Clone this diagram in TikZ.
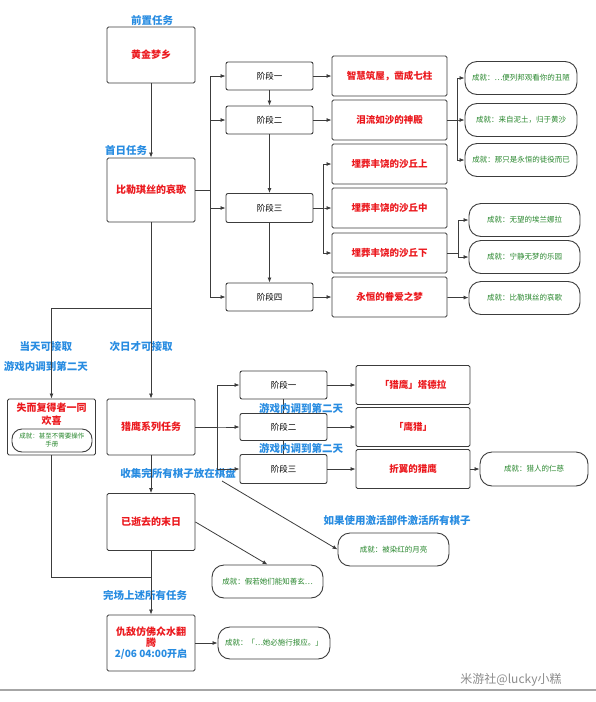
\documentclass[tikz,border=0pt]{standalone}
\usepackage{fontspec}
\setmainfont{Noto Sans CJK SC}
\usetikzlibrary{arrows.meta,%
		positioning}

\definecolor{questred}{RGB}{235,25,30}
\definecolor{tipblue}{RGB}{40,140,225}
\definecolor{achgreen}{RGB}{40,135,45}
\definecolor{boxline}{RGB}{60,60,60}

\tikzset{
  quest/.style={draw=boxline, line width=0.9pt, rounded corners=1.5pt, minimum width=88pt, minimum height=56pt,
    text=questred, font=\fontsize{10}{13}\selectfont\bfseries, align=center, inner sep=2pt},
  questbar/.style={quest, minimum width=115pt, minimum height=40pt, font=\fontsize{9.5}{11}\selectfont\bfseries},
  stagebox/.style={draw=boxline, line width=0.9pt, rounded corners=2pt, minimum width=87pt, minimum height=28pt,
    font=\fontsize{8.5}{10}\selectfont},
  ach/.style={draw=boxline, line width=0.9pt, rounded corners=12pt, minimum width=112pt, minimum height=33pt,
    text=achgreen, font=\fontsize{7.5}{9}\selectfont, fill=white},
  tip/.style={text=tipblue, font=\fontsize{10.5}{12}\selectfont\bfseries},
  arr/.style={-{Latex[length=5pt,width=4pt]}, line width=0.8pt, draw=boxline},
  wire/.style={line width=0.8pt, draw=boxline},
}

\begin{document}
\begin{tikzpicture}[x=1pt,y=-1pt]
\useasboundingbox (0,0) rectangle (596,702);
%colonna principale
\node[quest] (golddream) at (151,55) {黄金梦乡};
\node[quest, minimum height=64pt] (bilqis) at (151,190) {比勒琪丝的哀歌};
\node[quest] (lostfound) at (51.5,427) {};
\node[quest] (hawkquest) at (151,427) {猎鹰系列任务};
\node[quest, minimum height=57pt] (pastdoom) at (151,522) {已逝去的末日};
\node[quest] (enemy) at (151,643) {仇敌仿佛众水翻\\[-2pt]腾\\[-2pt]{\color{tipblue}2/06 04:00开启}};
\node[text=questred, font=\fontsize{10}{13}\selectfont\bfseries, align=center] (lostfoundtxt) at (51.5,414) {失而复得者一同\\欢喜};
\node[ach, minimum width=80pt, minimum height=23pt, rounded corners=10pt, font=\fontsize{6.5}{8}\selectfont, align=center, inner sep=1pt] (achmanual) at (52,440.5) {成就：甚至不需要操作\\手册};

%etichette
\node[tip] (tippre) at (152,20) {前置任务};
\node[tip] (tipfirst) at (126,150) {首日任务};
\node[tip] (tipsame) at (46,347) {当天可接取};
\node[tip] (tipnextday) at (46,366) {游戏内调到第二天};
\node[tip] (tipnext) at (141,347) {次日才可接取};
\node[tip] (tipchess) at (178,473) {收集完所有棋子放在棋盘};
\node[tip] (tipactive) at (397,520) {如果使用激活部件激活所有棋子};
\node[tip] (tipdone) at (145,595) {完场上述所有任务};

%fasi di Bilqis
\node[stagebox] (stA) at (269.5,76) {阶段一};
\node[stagebox] (stB) at (269.5,120) {阶段二};
\node[stagebox, minimum height=29pt] (stC) at (269.5,208) {阶段三};
\node[stagebox] (stD) at (269.5,297) {阶段四};
\node[questbar] (qwisdom) at (389.5,76) {智慧筑屋，凿成七柱};
\node[questbar] (qtears) at (389.5,120) {泪流如沙的神殿};
\node[questbar] (qdunetop) at (389.5,164) {埋葬丰饶的沙丘上};
\node[questbar] (qdunemid) at (389.5,208) {埋葬丰饶的沙丘中};
\node[questbar] (qdunelow) at (389.5,253) {埋葬丰饶的沙丘下};
\node[questbar] (qeternal) at (389.5,297) {永恒的眷爱之梦};
\node[ach] (achugly) at (521,78) {成就：…便列邦观看你的丑陋};
\node[ach] (achdust) at (521,120) {成就：来自泥土，归于黄沙};
\node[ach] (achtoil) at (521,160) {成就：那只是永恒的徒役而已};
\node[ach, minimum width=111pt] (achhope) at (524.5,220) {成就：无望的埃兰娜拉};
\node[ach, minimum width=111pt] (achparadise) at (524.5,257) {成就：宁静无梦的乐园};
\node[ach, minimum width=111pt] (achlament) at (524.5,298) {成就：比勒琪丝的哀歌};

%fasi del falco
\node[stagebox] (hkA) at (283.5,385) {阶段一};
\node[stagebox, minimum height=27pt] (hkB) at (283.5,427) {阶段二};
\node[stagebox, minimum height=29pt] (hkC) at (283.5,469) {阶段三};
\node[questbar, minimum width=114pt, minimum height=39pt] (rtadrra) at (413,385) {「猎鹰」塔德拉};
\node[questbar, minimum width=114pt, minimum height=39pt] (rhunt) at (413,427) {「鹰猎」};
\node[questbar, minimum width=114pt, minimum height=39pt] (rbroken) at (413,469) {折翼的猎鹰};
\node[ach, minimum width=108pt, minimum height=34pt] (achmercy) at (534,469) {成就：猎人的仁慈};
\node[ach, minimum width=111pt] (achknow) at (267.5,581.5) {成就：假若她们能知善玄…};
\node[ach, minimum width=111pt] (achmoon) at (393.5,549.5) {成就：被染红的月亮};
\node[ach, minimum width=112pt, minimum height=32pt] (achvengeance) at (274,643) {成就：「…她必施行报应。」};
\node[text=black!45, font=\fontsize{12}{14}\selectfont] (mark) at (511,680) {米游社@lucky小糕};

%collegamenti
\coordinate (fork) at (151,308);
\coordinate (rejoin) at (151,577);
\coordinate (chessend) at (222,481);
\draw[arr] (golddream) -- (bilqis);
\foreach \s in {stA,stB,stC,stD}
  \draw[arr] (bilqis.east) -- ++(15,0) |- (\s.west);
\draw[arr] (stA) -- (stB);
\draw[arr] (stB) -- (stC);
\draw[arr] (stC) -- (stD);
\draw[arr] (stA) -- (qwisdom);
\draw[arr] (stB) -- (qtears);
\draw[arr] (stD) -- (qeternal);
\foreach \q in {qdunetop,qdunemid,qdunelow}
  \draw[arr] (stC.east) -- ++(10,0) |- (\q.west);
\foreach \a in {achugly,achdust,achtoil}
  \draw[arr] (qtears.east) -- ++(10,0) |- (\a.west);
\foreach \a in {achhope,achparadise}
  \draw[arr] (qdunelow.east) -- ++(11,0) |- (\a.west);
\draw[arr] (qeternal) -- (achlament);

\draw[wire] (bilqis) -- (fork);
\draw[arr] (fork) -- (hawkquest);
\draw[arr] (fork) -| (lostfound);
\draw[wire] (lostfound.south) |- (rejoin);
\draw[arr] (hawkquest) -- (pastdoom);
\draw[arr] (pastdoom) -- (enemy);
\foreach \h in {hkA,hkB,hkC}
  \draw[arr] (hawkquest.east) -- ++(22,0) |- (\h.west);
\draw[wire] (hkA) -- (hkB);
\draw[wire] (hkB) -- (hkC);
\draw[arr] (hkA) -- (rtadrra);
\draw[arr] (hkB) -- (rhunt);
\draw[arr] (hkC) -- (rbroken);
\draw[arr] (rbroken) -- (achmercy);
\draw[arr] (pastdoom.east) -- (achknow.north);
\draw[arr] (chessend) -- (achmoon.west);
\draw[arr] (enemy) -- (achvengeance);

%etichette sopra le linee
\node[tip] (tiphkA) at (301,408) {游戏内调到第二天};
\node[tip] (tiphkB) at (301,448) {游戏内调到第二天};

\draw[black!35, line width=2pt] (0,690) -- (596,690);
\end{tikzpicture}
\end{document}
